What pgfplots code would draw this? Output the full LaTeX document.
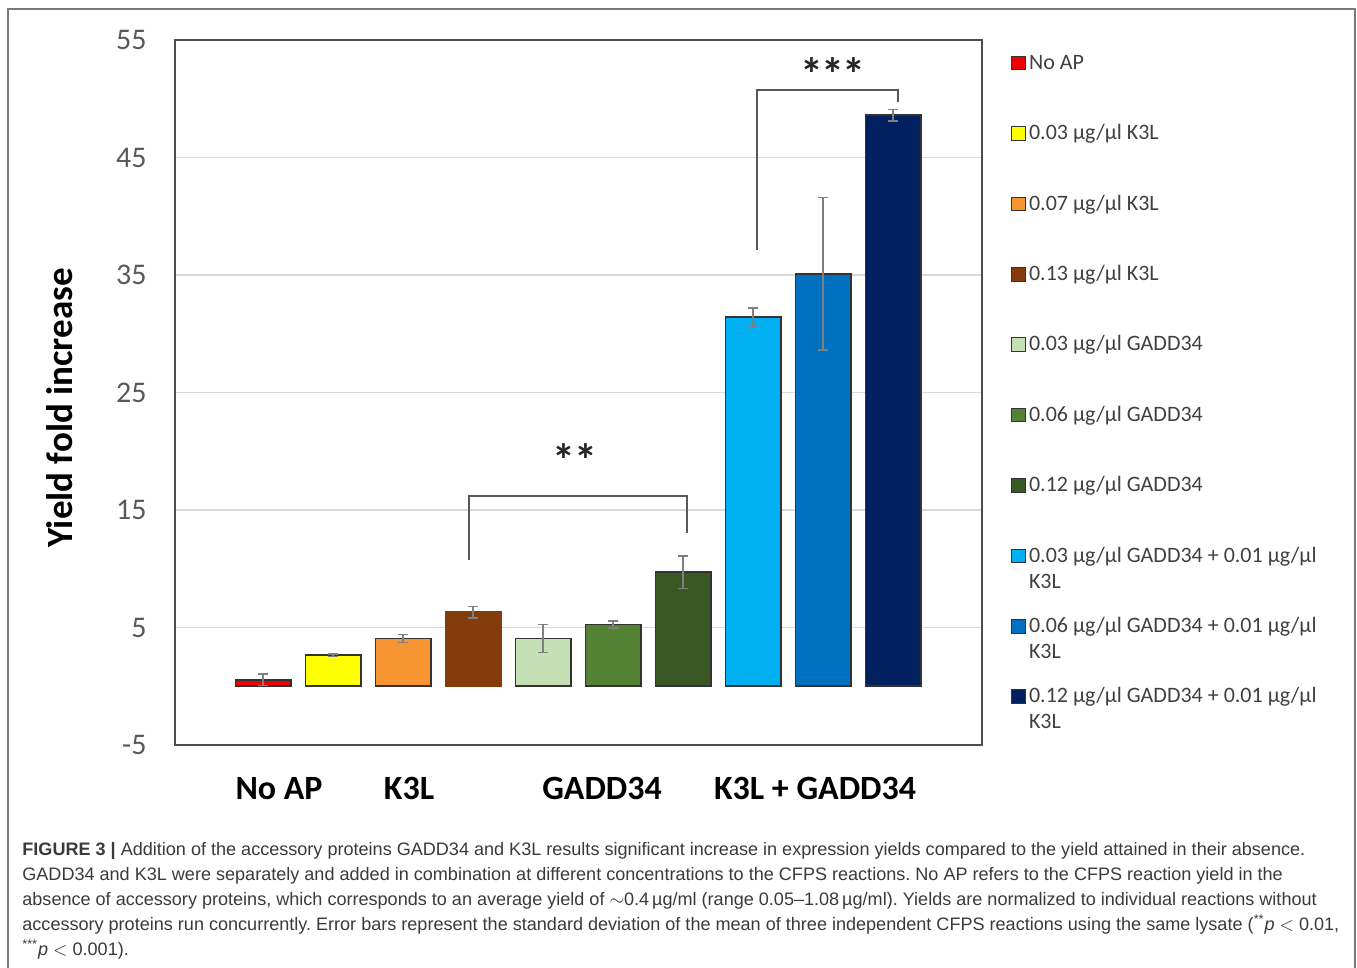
\documentclass[border=0pt]{standalone}
\usepackage{pgfplots}
\pgfplotsset{compat=1.18}
\usepackage{fontspec}
\setmainfont{Carlito}
\newfontfamily\capfont{Liberation Sans}

\definecolor{cNoAP}{HTML}{F00000}
\definecolor{cKa}{HTML}{FFFF00}
\definecolor{cKb}{HTML}{F79533}
\definecolor{cKc}{HTML}{843C0C}
\definecolor{cGa}{HTML}{C5E0B4}
\definecolor{cGb}{HTML}{548235}
\definecolor{cGc}{HTML}{385723}
\definecolor{cCa}{HTML}{00B0F0}
\definecolor{cCb}{HTML}{0070C0}
\definecolor{cCc}{HTML}{002060}
\definecolor{bardraw}{HTML}{333333}
\definecolor{errgray}{HTML}{7F7F7F}
\definecolor{gridgray}{HTML}{D9D9D9}
\definecolor{axisgray}{HTML}{4D4D4D}
\definecolor{tickgray}{HTML}{595959}
\definecolor{legtext}{HTML}{404040}
\definecolor{brackgray}{HTML}{595959}
\definecolor{framegray}{HTML}{7A7A7A}
\definecolor{capgray}{HTML}{3A3A3A}

\pgfplotsset{
  barsty/.style={
    draw=bardraw, line width=0.8pt, bar shift=0pt,
    legend image code/.code={\draw[##1, line width=0.5pt, draw=black!80] (0pt,-0.3pt) rectangle (6.8pt,6.5pt);},
    error bars/y dir=both, error bars/y explicit,
    error bars/error bar style={errgray, line width=0.7pt},
    error bars/error mark options={rotate=90, errgray, mark size=2.6pt, line width=0.7pt}
  },
  brack/.style={sharp plot, brackgray, line width=1pt, mark=none, forget plot, bar shift=0pt}
}

\newcommand{\legfont}{\fontsize{11}{13}\selectfont}
\newcommand{\two}[2]{\begin{tabular}[t]{@{}l@{}}#1\\#2\end{tabular}}

\begin{document}
\frenchspacing
\begin{tikzpicture}
\useasboundingbox (0,0) rectangle (678.5pt,484pt);
% panel frame
\draw[framegray, line width=0.8pt] (4pt,-2pt) -- (4pt,479.5pt) -- (677.5pt,479.5pt) -- (677.5pt,-2pt);

\begin{axis}[
  at={(87.5pt,111.5pt)}, anchor=south west,
  width=403.5pt, height=352.5pt, scale only axis,
  xmin=-1.257, xmax=10.27, ymin=-5, ymax=55,
  ytick={-5,5,...,55}, xtick=\empty,
  ymajorgrids, grid style={gridgray, line width=0.7pt},
  major tick length=0pt,
  axis line style={axisgray, line width=1pt},
  /pgf/number format/assume math mode=true,
  yticklabel style={font=\fontsize{15}{18}\selectfont, text=tickgray, inner sep=0pt, xshift=-14pt},
  ylabel={Yield fold increase},
  ylabel style={font=\bfseries\fontsize{18.5}{22}\selectfont, text=black,
    at={(axis description cs:-0.1425,0.478)}, anchor=center},
  ybar, bar width=27.7pt, bar shift=0pt,
  clip=false,
  legend style={at={(1.036,0.9816)}, anchor=north west, draw=none, fill=none,
    inner sep=0pt, row sep=0pt, font=\legfont, text=legtext,
    nodes={inner xsep=1.5pt, inner ysep=0pt, text height=8pt, text depth=27.2pt, anchor=base west},
    cells={anchor=base west}},
]
\addplot[barsty, fill=cNoAP] coordinates {(0,0.55) +- (0,0.5)};
\addlegendentry{No AP}
\addplot[barsty, fill=cKa] coordinates {(1,2.65) +- (0,0.1)};
\addlegendentry{0.03 µg/µl K3L}
\addplot[barsty, fill=cKb] coordinates {(2,4.05) +- (0,0.35)};
\addlegendentry{0.07 µg/µl K3L}
\addplot[barsty, fill=cKc, draw=cKc] coordinates {(3,6.3) +- (0,0.5)};
\addlegendentry{0.13 µg/µl K3L}
\addplot[barsty, fill=cGa] coordinates {(4,4.05) +- (0,1.2)};
\addlegendentry{0.03 µg/µl GADD34}
\addplot[barsty, fill=cGb] coordinates {(5,5.25) +- (0,0.3)};
\addlegendentry{0.06 µg/µl GADD34}
\addplot[barsty, fill=cGc] coordinates {(6,9.7) +- (0,1.4)};
\addlegendentry{0.12 µg/µl GADD34}
\addplot[barsty, fill=cCa] coordinates {(7,31.4) +- (0,0.8)};
\addlegendentry{\two{0.03 µg/µl GADD34 + 0.01 µg/µl}{K3L}}
\addplot[barsty, fill=cCb] coordinates {(8,35.1) +- (0,6.5)};
\addlegendentry{\two{0.06 µg/µl GADD34 + 0.01 µg/µl}{K3L}}
\addplot[barsty, fill=cCc] coordinates {(9,48.6) +- (0,0.5)};
\addlegendentry{\two{0.12 µg/µl GADD34 + 0.01 µg/µl}{K3L}}

% significance brackets
\addplot[brack] coordinates {(2.943,10.74) (2.943,16.2) (6.057,16.2) (6.057,13.06)};
\addplot[brack] coordinates {(7.057,37.13) (7.057,50.74) (9.07,50.74) (9.07,49.72)};
\node[font=\bfseries\fontsize{23}{24}\selectfont, text=black!85, inner sep=0pt] at (axis cs:4.457,19.25) {*\kern-0.8pt*};
\node[font=\bfseries\fontsize{23}{24}\selectfont, text=black!85, inner sep=0pt] at (axis cs:8.14,52.1) {*\kern-0.8pt*\kern-0.8pt*};

% group names under the bars
\begin{scope}[every node/.style={font=\bfseries\fontsize{17}{20}\selectfont, anchor=base, inner sep=0pt}]
\node at (axis cs:0.229,-9.68) {No AP};
\node at (axis cs:2.086,-9.68) {K3L};
\node at (axis cs:4.843,-9.68) {GADD34};
\node at (axis cs:7.886,-9.68) {K3L + GADD34};
\end{scope}
\end{axis}

% caption
\begin{scope}[every node/.style={anchor=base west, inner sep=0pt, text=capgray, font=\capfont\fontsize{9.03}{11}\selectfont}]
\node at (11pt,56pt) {{\bfseries FIGURE 3 |} Addition of the accessory proteins GADD34 and K3L results significant increase in expression yields compared to the yield attained in their absence.};
\node at (11pt,43.5pt) {GADD34 and K3L were separately and added in combination at different concentrations to the CFPS reactions. No AP refers to the CFPS reaction yield in the};
\node at (11pt,31pt) {absence of accessory proteins, which corresponds to an average yield of $\sim$0.4\,µg/ml (range 0.05–1.08\,µg/ml). Yields are normalized to individual reactions without};
\node at (11pt,18.5pt) {accessory proteins run concurrently. Error bars represent the standard deviation of the mean of three independent CFPS reactions using the same lysate (\textsuperscript{**}\textit{p} $<$ 0.01,};
\node at (11pt,6pt) {\textsuperscript{***}\textit{p} $<$ 0.001).};
\end{scope}
\end{tikzpicture}
\end{document}
